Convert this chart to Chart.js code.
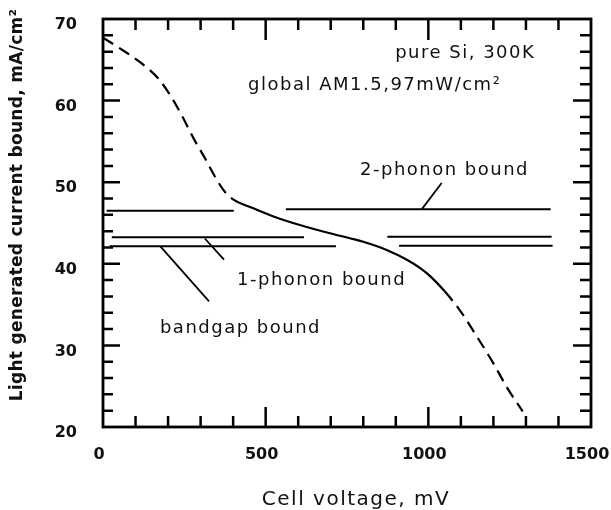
<!DOCTYPE html>
<html><head><meta charset="utf-8">
<script src="https://cdn.jsdelivr.net/npm/chart.js@4/dist/chart.umd.min.js"></script>
<style>html,body{margin:0;padding:0;background:#fff}</style>
</head><body>
<canvas id="c" width="611" height="510"></canvas>
<script>
// ---- data ----
const curveX = [0, 52, 124, 170, 206, 242, 278, 314, 344, 375, 400, 462, 524, 605, 698, 759, 800, 872, 934, 974, 1008, 1051, 1097, 1149, 1200, 1241, 1290];
const curveY = [67.7, 66.4, 64.4, 62.7, 60.7, 58.2, 55.4, 52.9, 50.7, 48.8, 47.9, 46.8, 45.8, 44.75, 43.74, 43.13, 42.7, 41.7, 40.5, 39.5, 38.4, 36.6, 34.3, 31.1, 27.8, 24.9, 21.9];
const solidFrom = 400;   // curve is solid between these voltages, dashed outside
const solidTo = 1051;

const boundNames = ['2-phonon bound', '1-phonon bound', 'bandgap bound'];
const boundLevelLeft = [46.5, 43.25, 42.15];
const boundLevelRight = [46.7, 43.3, 42.2];
const boundLeftStart = [11, 27, 21];
const boundLeftEnd = [402, 618, 716];
const boundRightStart = [562, 874, 910];
const boundRightEnd = [1376, 1379, 1382];

const leaderFromX = [980, 313, 177];
const leaderFromY = [46.7, 43.1, 42.1];
const leaderToX = [1041, 372, 326];
const leaderToY = [49.9, 40.5, 35.4];
const boundLabelX = [790, 412, 175];
const boundLabelY = [51.5, 38.0, 32.1];

const noteTexts = ['pure Si, 300K', 'global AM1.5,97mW/cm\u00B2'];
const noteX = [898, 446];
const noteY = [65.8, 61.9];

const xTickLabels = [0, 500, 1000, 1500];
const yTickLabels = [20, 30, 40, 50, 60, 70];
const xMinorTicks = [100, 200, 300, 400, 600, 700, 800, 900, 1100, 1200, 1300, 1400];
const xMajorTicks = [500, 1000];
const yMinorTicks = [22, 24, 26, 28, 32, 34, 36, 38, 42, 44, 46, 48, 52, 54, 56, 58, 62, 64, 66, 68];
const yMajorTicks = [30, 40, 50, 60];
const xTitle = 'Cell voltage, mV';
const yTitle = 'Light generated current bound, mA/cm\u00B2';

// ---- build datasets ----
const pts = (xs, ys) => xs.map((x, i) => ({x, y: ys[i]}));
const lineStyle = {showLine: true, borderColor: '#000', borderWidth: 2, pointRadius: 0, fill: false, tension: 0};
const datasets = [];
datasets.push(Object.assign({}, lineStyle, {
  label: 'bound curve',
  data: pts(curveX, curveY),
  borderWidth: 2.2,
  cubicInterpolationMode: 'monotone',
  segment: {
    borderDash: ctx => (ctx.p0.parsed.x >= solidFrom && ctx.p1.parsed.x <= solidTo) ? [] : [12, 7]
  }
}));
boundNames.forEach((n, i) => {
  datasets.push(Object.assign({}, lineStyle, {label: n + ' L', data: pts([boundLeftStart[i], boundLeftEnd[i]], [boundLevelLeft[i], boundLevelLeft[i]])}));
  datasets.push(Object.assign({}, lineStyle, {label: n + ' R', data: pts([boundRightStart[i], boundRightEnd[i]], [boundLevelRight[i], boundLevelRight[i]])}));
  datasets.push(Object.assign({}, lineStyle, {label: n + ' leader', borderWidth: 1.8, data: pts([leaderFromX[i], leaderToX[i]], [leaderFromY[i], leaderToY[i]])}));
});

// ---- frame, inward ticks and text ----
const decor = {
  id: 'decor',
  afterDraw(chart) {
    const {ctx, chartArea: a, scales: {x, y}} = chart;
    ctx.save();
    ctx.strokeStyle = '#000';
    ctx.lineWidth = 2.5;
    ctx.lineCap = 'butt';
    ctx.beginPath();
    const tick = (x1, y1, x2, y2) => { ctx.moveTo(x1, y1); ctx.lineTo(x2, y2); };
    xMinorTicks.forEach(v => { const px = x.getPixelForValue(v); tick(px, a.bottom, px, a.bottom - 11); tick(px, a.top, px, a.top + 11); });
    xMajorTicks.forEach(v => { const px = x.getPixelForValue(v); tick(px, a.bottom, px, a.bottom - 20); tick(px, a.top, px, a.top + 21); });
    yMinorTicks.forEach(v => { const py = y.getPixelForValue(v); tick(a.left, py, a.left + 10, py); tick(a.right, py, a.right - 11, py); });
    yMajorTicks.forEach(v => { const py = y.getPixelForValue(v); tick(a.left, py, a.left + 17, py); tick(a.right, py, a.right - 18, py); });
    ctx.stroke();
    ctx.lineWidth = 2.8;
    ctx.strokeRect(a.left, a.top, a.right - a.left, a.bottom - a.top);

    ctx.fillStyle = '#111';
    ctx.textBaseline = 'middle';
    ctx.textAlign = 'left';
    ctx.font = '18px "DejaVu Sans"';
    ctx.letterSpacing = '1.5px';
    noteTexts.forEach((t, i) => ctx.fillText(t, x.getPixelForValue(noteX[i]), y.getPixelForValue(noteY[i])));
    boundNames.forEach((t, i) => ctx.fillText(t, x.getPixelForValue(boundLabelX[i]), y.getPixelForValue(boundLabelY[i])));

    // axis titles
    ctx.textAlign = 'center';
    ctx.font = '20px "DejaVu Sans"';
    ctx.letterSpacing = '1.5px';
    ctx.fillText(xTitle, (a.left + a.right) / 2 + 9, a.bottom + 73);
    ctx.save();
    ctx.translate(a.left - 85, (a.top + a.bottom) / 2 - 18);
    ctx.rotate(-Math.PI / 2);
    ctx.font = 'bold 17px "DejaVu Sans"';
    ctx.letterSpacing = '0.3px';
    ctx.fillText(yTitle, 0, 0);
    ctx.restore();
    ctx.restore();
  }
};

new Chart(document.getElementById('c'), {
  type: 'scatter',
  data: {datasets},
  options: {
    responsive: false,
    animation: false,
    layout: {padding: {top: 19, right: 20, left: 0, bottom: 0}},
    plugins: {legend: {display: false}, tooltip: {enabled: false}},
    scales: {
      x: {
        type: 'linear', min: 0, max: 1500,
        grid: {display: false, drawTicks: false},
        border: {display: false},
        afterBuildTicks: s => { s.ticks = xTickLabels.map(v => ({value: v})); },
        ticks: {color: '#111', font: {family: 'DejaVu Sans', size: 16, weight: 'bold'}, padding: 18, labelOffset: -4, maxRotation: 0, autoSkip: false, callback: v => String(v)},
        afterFit: s => { s.height = 83; s.paddingLeft = 0; s.paddingRight = 0; }
      },
      y: {
        type: 'linear', min: 20, max: 70,
        grid: {display: false, drawTicks: false},
        border: {display: false},
        afterBuildTicks: s => { s.ticks = yTickLabels.map(v => ({value: v})); },
        ticks: {color: '#111', font: {family: 'DejaVu Sans', size: 16, weight: 'bold'}, padding: 26, labelOffset: 6, autoSkip: false, callback: v => String(v)},
        afterFit: s => { s.width = 103; s.paddingTop = 0; s.paddingBottom = 0; }
      }
    }
  },
  plugins: [decor]
});
</script>
</body></html>
